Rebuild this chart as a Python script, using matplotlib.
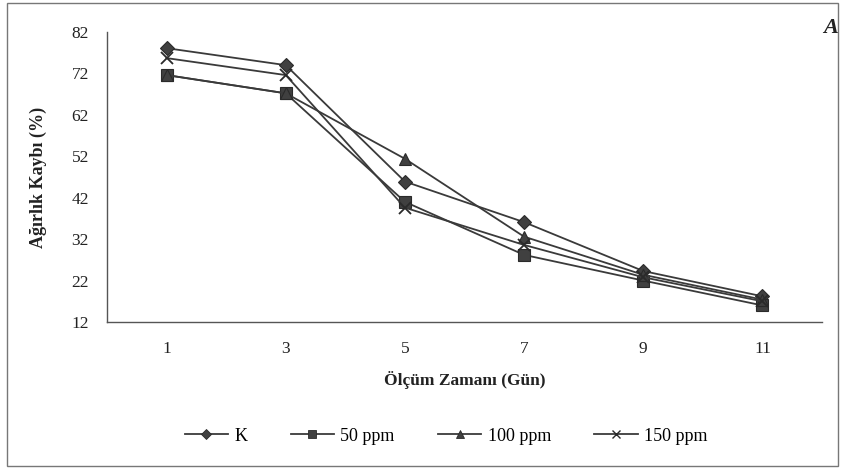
import matplotlib
matplotlib.use("Agg")
import matplotlib.pyplot as plt
from matplotlib.lines import Line2D
from matplotlib.patches import Rectangle

plt.rcParams['font.family'] = ['Liberation Serif', 'DejaVu Serif']

days = [1, 3, 5, 7, 9, 11]
k_ctrl = [78.1, 74.0, 45.9, 36.1, 24.3, 18.2]
ppm50 = [71.6, 67.2, 41.0, 28.2, 22.0, 16.0]
ppm100 = [71.6, 67.2, 51.4, 32.6, 23.4, 17.4]
ppm150 = [75.7, 71.6, 39.6, 30.6, 22.8, 17.0]
yticks = [12, 22, 32, 42, 52, 62, 72, 82]

series = [
    ("K", k_ctrl, "D", 7.5),
    ("50 ppm", ppm50, "s", 8.5),
    ("100 ppm", ppm100, "^", 9),
    ("150 ppm", ppm150, "x", 8),
]

W, H = 843, 469
fig = plt.figure(figsize=(W / 100, H / 100), dpi=100)
ax = fig.add_axes([107 / W, 1 - 322 / H, (822 - 107) / W, (322 - 32) / H])

line_col = "#3a3a3a"
mark_col = "#404040"
for name, vals, mk, ms in series:
    ax.plot(days, vals, color=line_col, lw=1.3, marker=mk, ms=ms,
            mfc=mark_col, mec="#2a2a2a", mew=1.3 if mk == "x" else 0.8,
            label=name)

ax.set_xlim(0, 12)
ax.set_ylim(12, 82)
ax.set_xticks(days)
ax.set_yticks(yticks)
ax.tick_params(length=0, labelsize=12.5, colors="#222222")
ax.tick_params(axis="y", pad=13)
ax.tick_params(axis="x", pad=14)
for s in ["top", "right"]:
    ax.spines[s].set_visible(False)
for s in ["left", "bottom"]:
    ax.spines[s].set_color("#555555")
    ax.spines[s].set_linewidth(1.0)

fig.text(38 / W, 1 - 177 / H, "Ağırlık Kaybı (%)", rotation=90, ha="center",
         va="center", fontsize=13, fontweight="bold", color="#222222")
fig.text(465 / W, 1 - 380 / H, "Ölçüm Zamanı (Gün)", ha="center",
         va="center", fontsize=12.5, fontweight="bold", color="#222222")
fig.text(838 / W, 1 - 28 / H, "A", ha="right", va="center", fontsize=16,
         fontweight="bold", fontstyle="italic", color="#222222")

handles = [Line2D([0], [0], color=line_col, lw=1.3, marker=mk,
                  ms=ms * 0.65, mfc=mark_col, mec="#2a2a2a",
                  mew=1.0 if mk == "x" else 0.6)
           for _, _, mk, ms in series]
fig.legend(handles, [s[0] for s in series], loc="center",
           bbox_to_anchor=(446 / W, 1 - 436 / H), ncol=4, frameon=False,
           fontsize=13, handlelength=2.4, handletextpad=0.35,
           columnspacing=2.4)

fig.patches.append(Rectangle((7 / W, 3 / H), 831 / W, 463 / H,
                             transform=fig.transFigure, fill=False,
                             ec="#777777", lw=1.0))

fig.savefig("out.png", dpi=100, facecolor="white")
